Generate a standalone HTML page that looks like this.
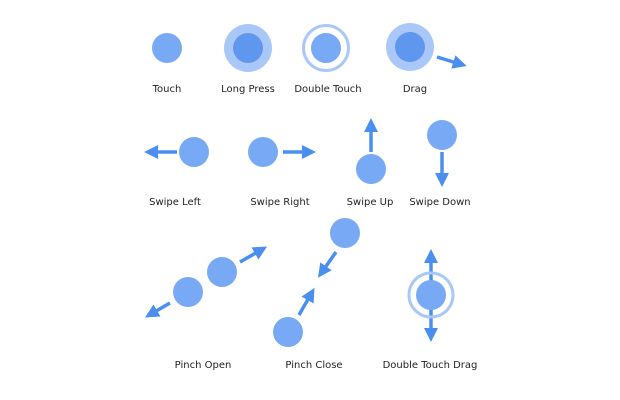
<!DOCTYPE html>
<html><head><style>
html,body{margin:0;padding:0;background:#fff;}
svg{display:block;}
text{font-family:"DejaVu Sans","Liberation Sans",sans-serif;font-size:10px;fill:#222;text-anchor:middle;}
</style></head><body>
<svg width="620" height="400" viewBox="0 0 620 400">
<defs>
<marker id="a" viewBox="0 0 10 10" refX="5" refY="5" markerWidth="4" markerHeight="4" orient="auto-start-reverse" markerUnits="strokeWidth">
<path d="M0,0 L10,5 L0,10 z" fill="#4a8ff0"/></marker>
</defs>
<g stroke="#4a8ff0" stroke-width="3.5" fill="none" marker-end="url(#a)">
<line x1="437" y1="57" x2="460" y2="64"/>
<line x1="177" y1="152" x2="151" y2="152"/>
<line x1="283" y1="152" x2="309" y2="152"/>
<line x1="371" y1="152" x2="371" y2="125"/>
<line x1="442" y1="152" x2="442" y2="180"/>
<line x1="240" y1="262" x2="261" y2="250"/>
<line x1="170" y1="303" x2="151" y2="314"/>
<line x1="336" y1="252" x2="322" y2="272"/>
<line x1="299" y1="315" x2="311" y2="294"/>
<line x1="431" y1="295" x2="431" y2="256"/>
<line x1="431" y1="295" x2="431" y2="335"/>
</g>
<g fill="#78a9f5">
<circle cx="167" cy="48" r="15"/>
<circle cx="248" cy="48" r="24" fill="#a9c8f7"/>
<circle cx="248" cy="48" r="15" fill="#5f97ef"/>
<circle cx="326" cy="48" r="22.5" fill="none" stroke="#a9c8f7" stroke-width="3"/>
<circle cx="326" cy="48" r="15"/>
<circle cx="410" cy="47" r="24" fill="#a9c8f7"/>
<circle cx="410" cy="47" r="15" fill="#5f97ef"/>
<circle cx="194" cy="152" r="15"/>
<circle cx="263" cy="152" r="15"/>
<circle cx="371" cy="169" r="15"/>
<circle cx="442" cy="135" r="15"/>
<circle cx="188" cy="292" r="15"/>
<circle cx="222" cy="272" r="15"/>
<circle cx="345" cy="233" r="15"/>
<circle cx="288" cy="332" r="15"/>
<circle cx="431" cy="295" r="22" fill="none" stroke="#a9c8f7" stroke-width="3"/>
<circle cx="431" cy="295" r="15"/>
</g>
<text x="167" y="92">Touch</text>
<text x="248" y="92">Long Press</text>
<text x="328" y="92">Double Touch</text>
<text x="415" y="92">Drag</text>
<text x="175" y="205">Swipe Left</text>
<text x="280" y="205">Swipe Right</text>
<text x="370" y="205">Swipe Up</text>
<text x="440" y="205">Swipe Down</text>
<text x="203" y="368">Pinch Open</text>
<text x="314" y="368">Pinch Close</text>
<text x="430" y="368">Double Touch Drag</text>
</svg>
</body></html>
